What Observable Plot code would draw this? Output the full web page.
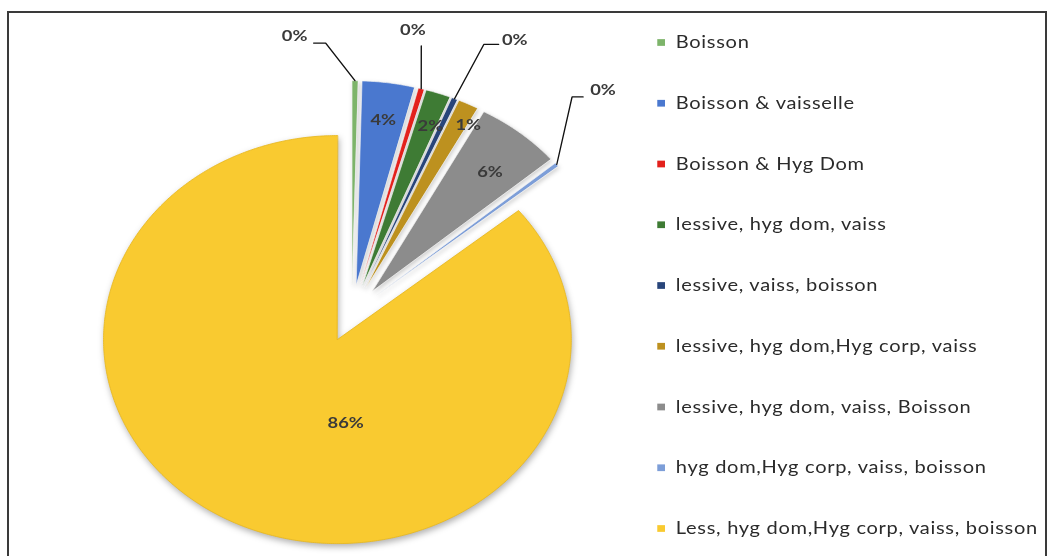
<!DOCTYPE html>
<html><head><meta charset="utf-8">
<script src="https://cdn.jsdelivr.net/npm/d3@7"></script>
<script src="https://cdn.jsdelivr.net/npm/@observablehq/plot@0.6"></script>
<style>
html,body{margin:0;padding:0;background:#fff;overflow:hidden;width:1049px;height:556px;}
#frame{position:absolute;left:7px;top:11px;width:1040px;height:600px;border:2px solid #3a3a3a;border-bottom:none;box-sizing:border-box;}
#chart{position:absolute;left:0;top:0;transform:scaleX(1.1464);transform-origin:0 0;}
</style></head><body>
<div id="frame"></div><div id="chart"></div>
<script>
// ---- data ----
const categories = [
  "Boisson",
  "Boisson & vaisselle",
  "Boisson & Hyg Dom",
  "lessive, hyg dom, vaiss",
  "lessive, vaiss, boisson",
  "lessive, hyg dom,Hyg corp, vaiss",
  "lessive, hyg dom, vaiss, Boisson",
  "hyg dom,Hyg corp, vaiss, boisson",
  "Less, hyg dom,Hyg corp, vaiss, boisson"
];
const shares = [0.4, 3.6, 0.4, 1.7, 0.4, 1.4, 5.9, 0.3, 85.9];
const colors = ["#7DB46A","#4A78CF","#E3211C","#3E7B34","#28457A","#BD911F","#8C8C8C","#7D9ED8","#F9CA30"];

// ---- layout (unstretched px) ----
const W = 915, H = 556, CX = 306.2, CY = 313, RPX = 204, EXPLODE = 0.1415;
const LEG_SQ_X = 576.2, LEG_TX = 589, LEG_Y0 = 42, LEG_STEP = 60.75;
const labelLayout = [
  {out: true, elbow: [-4.78, 1.33], tail: -10.5, text: [-16.6, -7]},
  {out: false, at: [8.1, 0.961]},
  {out: true, elbow: [12.8, 1.345], tail: 0, text: [-7.3, -16]},
  {out: false, at: [20.1, 0.981]},
  {out: true, elbow: [23.2, 1.435], tail: 12.9, text: [14.1, -5]},
  {out: false, at: [28.3, 1.052]},
  {out: false, at: [40.5, 0.911]},
  {out: true, elbow: [41.6, 1.42], tail: 9.6, text: [17.4, -7]},
  {out: false, at: [182.7, 0.537]}
];

const u = p => p / RPX;
const total = d3.sum(shares);
let cum = 0;
const slices = categories.map((name, i) => {
  const a0 = cum / total * 2 * Math.PI; cum += shares[i];
  const a1 = cum / total * 2 * Math.PI;
  return {name, value: shares[i], a0, a1, mid: (a0 + a1) / 2, i};
});
const polar = (deg, r) => [r * Math.sin(deg * Math.PI / 180), r * Math.cos(deg * Math.PI / 180)];

const slicePts = slices.flatMap(s => {
  const vx = EXPLODE * Math.sin(s.mid), vy = EXPLODE * Math.cos(s.mid);
  const n = Math.max(2, Math.ceil((s.a1 - s.a0) / (Math.PI / 360)));
  const pts = [{name: s.name, x: vx, y: vy}];
  for (let k = 0; k <= n; k++) {
    const a = s.a0 + (s.a1 - s.a0) * k / n;
    pts.push({name: s.name, x: vx + Math.sin(a), y: vy + Math.cos(a)});
  }
  return pts;
});
const mainName = categories[categories.length - 1];

const pctText = v => Math.round(v / total * 100) + "%";
const labels = [], leaders = [];
slices.forEach((s, i) => {
  const L = labelLayout[i];
  if (!L.out) {
    const [x, y] = polar(L.at[0], L.at[1]);
    labels.push({x, y, text: pctText(s.value)});
  } else {
    const vx = EXPLODE * Math.sin(s.mid), vy = EXPLODE * Math.cos(s.mid);
    const ox = vx + Math.sin(s.mid), oy = vy + Math.cos(s.mid);
    const [ex, ey] = polar(L.elbow[0], L.elbow[1]);
    const tx = ex + u(L.tail), ty = ey;
    leaders.push({name: s.name, x: ox, y: oy}, {name: s.name, x: ex, y: ey}, {name: s.name, x: tx, y: ty});
    labels.push({x: tx + u(L.text[0]), y: ty - u(L.text[1]), text: pctText(s.value)});
  }
});

const legend = categories.map((name, i) => ({
  name,
  sx: u(LEG_SQ_X - CX), tx: u(LEG_TX - CX),
  y: u(CY - (LEG_Y0 + i * LEG_STEP))
}));

const chart = Plot.plot({
  width: W, height: H, margin: 0,
  x: {domain: [u(-CX), u(W - CX)], range: [0, W], axis: null},
  y: {domain: [u(CY - H), u(CY)], range: [H, 0], axis: null},
  color: {domain: categories, range: colors},
  style: {background: "transparent", overflow: "visible"},
  marks: [
    Plot.line(slicePts.filter(d => d.name === mainName), {x: "x", y: "y", z: "name", fill: "name", stroke: "#E8B820", strokeWidth: 0.8, curve: "linear-closed"}),
    Plot.line(slicePts.filter(d => d.name !== mainName), {x: "x", y: "y", z: "name", fill: "name", stroke: "#f4f4f4", strokeWidth: 0.6, curve: "linear-closed"}),
    Plot.line(leaders, {x: "x", y: "y", z: "name", stroke: "#111", strokeWidth: 1.2}),
    Plot.text(labels, {x: "x", y: "y", text: "text", fontSize: 16, fontWeight: "bold", fontFamily: "Lato, 'Open Sans', sans-serif", fill: "#3a3a3a"}),
    Plot.dot(legend, {x: "sx", y: "y", fill: "name", symbol: "square", r: 3.8}),
    Plot.text(legend, {x: "tx", y: "y", text: "name", textAnchor: "start", fontSize: 17.5, fontFamily: "Lato, 'Open Sans', sans-serif", fill: "#2b2b2b"})
  ]
});
document.getElementById("chart").appendChild(chart);
const lineGroups = chart.querySelectorAll('g[aria-label="line"]');
if (lineGroups[0]) lineGroups[0].style.filter = "drop-shadow(1px 3px 3px rgba(0,0,0,0.3))";
if (lineGroups[1]) lineGroups[1].style.filter = "drop-shadow(1px 2px 2px rgba(0,0,0,0.2))";
const textGroups = chart.querySelectorAll('g[aria-label="text"]');
if (textGroups[1]) textGroups[1].style.letterSpacing = "0.6px";
</script>
</body></html>
